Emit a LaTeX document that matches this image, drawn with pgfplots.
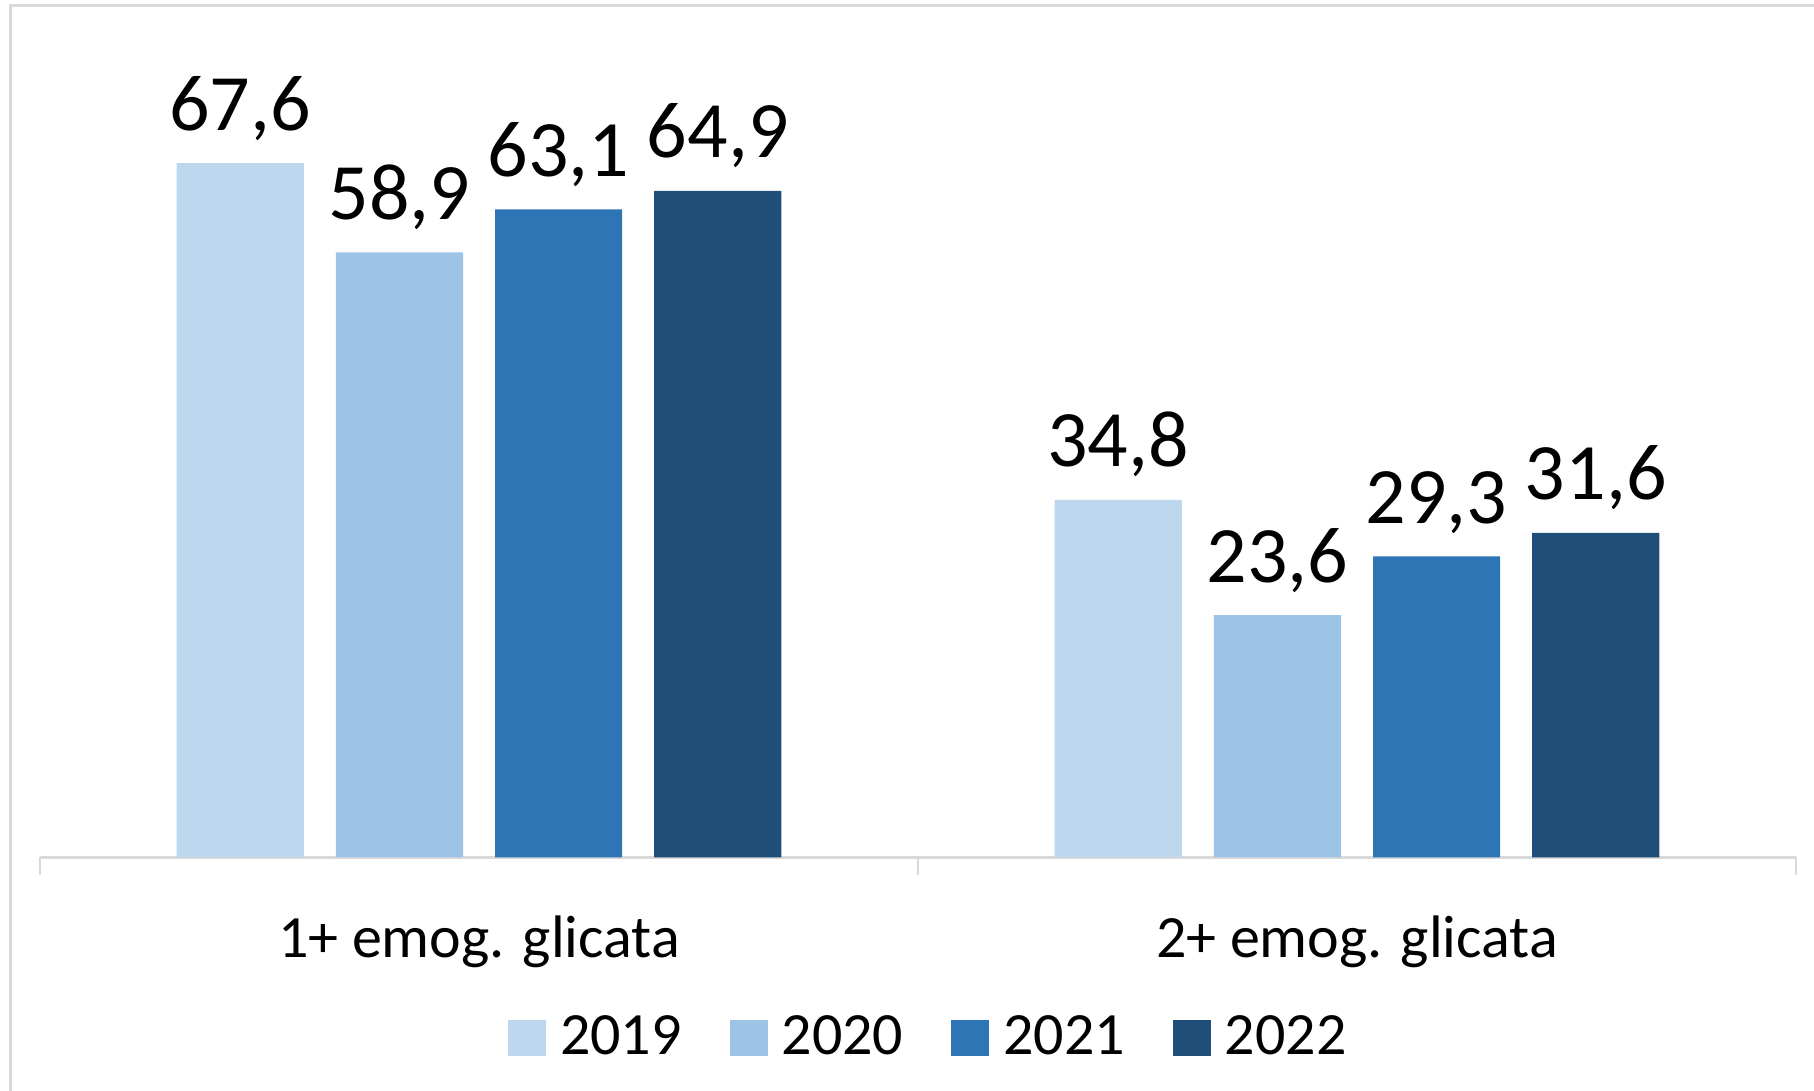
\documentclass[border=0pt]{standalone}
\usepackage{pgfplots}
\pgfplotsset{compat=1.18}
\usepackage{fontspec}
\setmainfont{Carlito}
\definecolor{c2019}{HTML}{BDD7EE}
\definecolor{c2020}{HTML}{9DC3E6}
\definecolor{c2021}{HTML}{2E75B6}
\definecolor{c2022}{HTML}{1F4E79}
\definecolor{gridgray}{HTML}{D9D9D9}
\begin{document}
\begin{tikzpicture}
\useasboundingbox (0,0) rectangle (453.5pt,272.75pt);
\draw[gridgray, line width=0.75pt] (2.5pt,0) -- (2.5pt,271.25pt) -- (453.5pt,271.25pt);
\begin{axis}[
  at={(10pt,58.4pt)}, anchor=south west,
  scale only axis,
  width=439pt, height=205.4pt,
  ybar=8pt, bar width=31.8pt,
  xmin=-0.5, xmax=1.5, ymin=0, ymax=80,
  enlargelimits=false,
  axis x line*=bottom, axis y line=none,
  axis line style={gridgray, line width=0.6pt},
  xtick={0,1},
  xticklabels={1+ emog. glicata, 2+ emog. glicata},
  minor xtick={-0.5,0.5,1.5},
  major tick length=0pt,
  minor tick length=4.5pt,
  tick align=outside,
  minor tick style={gridgray, line width=0.6pt},
  xticklabel style={font=\fontsize{15}{18}\selectfont, anchor=base, yshift=-25pt},
  nodes near coords,
  every node near coord/.append style={anchor=base, yshift=8.25pt, font=\fontsize{20}{24}\selectfont, text=black},
  /pgf/number format/.cd, use comma, fixed, fixed zerofill, precision=1, assume math mode=true,
  /pgfplots/.cd,
  legend columns=4,
  legend style={at={(axis description cs:0.507,-0.2193)}, anchor=center, draw=none,
    font=\fontsize{15}{18}\selectfont,
    /tikz/every odd column/.append style={column sep=2pt},
    /tikz/every even column/.append style={column sep=10.5pt},
    nodes={inner sep=1.5pt}},
  legend image code/.code={\fill[#1] (-0.5pt,-4.5pt) rectangle (9pt,4.5pt);},
]
\addplot[fill=c2019, draw=none] coordinates {(0,67.6) (1,34.8)};
\addplot[fill=c2020, draw=none] coordinates {(0,58.9) (1,23.6)};
\addplot[fill=c2021, draw=none] coordinates {(0,63.1) (1,29.3)};
\addplot[fill=c2022, draw=none] coordinates {(0,64.9) (1,31.6)};
\legend{2019,2020,2021,2022}
\end{axis}
\end{tikzpicture}
\end{document}
